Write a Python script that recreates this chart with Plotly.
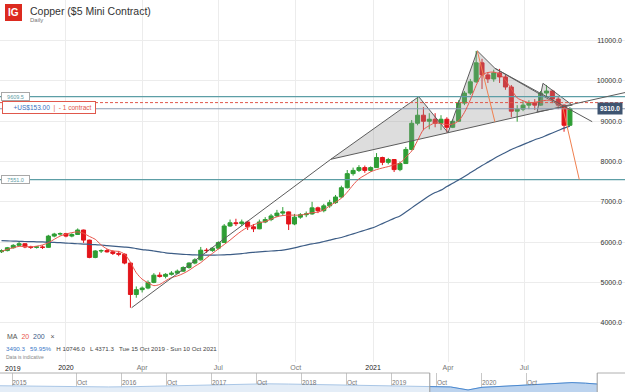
import pandas as pd
import plotly.graph_objects as go

W, H = 625, 392
def px(x): return x / W
def py(y): return 1 - y / H

# ---------------- data ----------------
week_mondays = pd.date_range("2019-10-14", "2021-08-23", freq="W-MON")
candle_dates = [d + pd.Timedelta(days=2) for d in week_mondays]

opens = [5760, 5790, 5860, 5920, 5960, 5880, 5870, 5880, 5870, 6150,
         6200, 6210, 6150, 6190, 6300, 6050, 5620, 5780, 5790, 5760,
         5720, 5700, 5480, 4700, 4820, 4860, 5000, 5180, 5150, 5200,
         5230, 5280, 5370, 5480, 5560, 5800, 5790, 5850, 5990, 6400,
         6480, 6460, 6500, 6380, 6330, 6500, 6560, 6650, 6720, 6750,
         6450, 6620, 6680, 6700, 6850, 6780, 6900, 6980, 7120, 7350,
         7700, 7780, 7850, 7780, 7850, 8100, 7980, 8050, 7800, 7950,
         8300, 8950, 9150, 9000, 9050, 8950, 9050, 8850, 9000, 9450,
         9700, 9980, 10450, 10150, 10050, 10200, 10100, 9850, 9250, 9300,
         9400, 9450, 9400, 9700, 9750, 9550, 9400, 8900]
highs = [5820, 5880, 5950, 6020, 5970, 5910, 5900, 5920, 6180, 6230,
         6240, 6230, 6220, 6340, 6310, 6060, 5800, 5820, 5830, 5800,
         5780, 5720, 5500, 4900, 4900, 5050, 5230, 5250, 5230, 5280,
         5320, 5400, 5500, 5600, 5880, 5850, 5880, 6020, 6450, 6560,
         6580, 6560, 6530, 6450, 6560, 6620, 6700, 6800, 6870, 6760,
         6700, 6720, 6760, 7000, 6880, 6950, 7050, 7170, 7400, 7790,
         7850, 7910, 7900, 7880, 8210, 8120, 8090, 8060, 8000, 8360,
         9030, 9610, 9350, 9200, 9200, 9150, 9100, 9050, 9520, 9750,
         10050, 10746, 10550, 10220, 10280, 10300, 10150, 9900, 9400, 9500,
         9520, 9550, 9750, 9900, 9780, 9600, 9420, 9350]
lows = [5730, 5770, 5840, 5900, 5850, 5830, 5840, 5830, 5860, 6120,
        6160, 6120, 6120, 6180, 5980, 5600, 5600, 5730, 5740, 5680,
        5650, 5450, 4371.3, 4620, 4750, 4830, 4980, 5120, 5100, 5170,
        5200, 5260, 5340, 5450, 5540, 5730, 5760, 5820, 5980, 6380,
        6400, 6400, 6300, 6250, 6320, 6470, 6520, 6620, 6650, 6300,
        6420, 6580, 6620, 6680, 6720, 6740, 6850, 6950, 7100, 7330,
        7650, 7740, 7720, 7750, 7840, 7910, 7930, 7740, 7760, 7940,
        8280, 8900, 8780, 8800, 8850, 8780, 8720, 8830, 8980, 9400,
        9650, 9950, 9800, 9950, 9980, 9950, 9780, 9100, 8990, 9250,
        9300, 9280, 9380, 9600, 9450, 9300, 8740, 8880]
closes = [5790, 5860, 5920, 5960, 5880, 5870, 5880, 5870, 6150, 6200,
          6210, 6150, 6190, 6300, 6050, 5620, 5780, 5790, 5760, 5720,
          5700, 5480, 4700, 4820, 4860, 5000, 5180, 5150, 5200, 5230,
          5280, 5370, 5480, 5560, 5800, 5790, 5850, 5990, 6400, 6480,
          6460, 6500, 6380, 6330, 6500, 6560, 6650, 6720, 6750, 6450,
          6620, 6680, 6700, 6850, 6780, 6900, 6980, 7120, 7350, 7700,
          7780, 7850, 7780, 7850, 8100, 7980, 8050, 7800, 7950, 8300,
          8950, 9150, 9000, 9050, 8950, 9050, 8850, 9000, 9450, 9700,
          9980, 10450, 10150, 10050, 10200, 10100, 9850, 9250, 9300, 9400,
          9450, 9400, 9700, 9750, 9550, 9400, 8900, 9310]
ma20 = [5770, 5820, 5860, 5895, 5890, 5882, 5900, 5930, 5985, 6070,
        6150, 6200, 6235, 6255, 6220, 6140, 6070, 5930, 5830, 5780,
        5770, 5700, 5500, 5240, 5080, 4990, 4920, 4950, 5040, 5120,
        5160, 5220, 5300, 5400, 5490, 5610, 5720, 5830, 5940, 6050,
        6170, 6280, 6370, 6430, 6480, 6510, 6570, 6630, 6660, 6670,
        6670, 6670, 6700, 6730, 6745, 6800, 6900, 6990, 7090, 7240,
        7420, 7570, 7660, 7745, 7800, 7840, 7875, 7920, 7960, 8110,
        8260, 8520, 8790, 8890, 8960, 8940, 8915, 8930, 9010, 9220,
        9530, 9890, 10150, 10210, 10220, 10170, 10020, 9800, 9580, 9510,
        9460, 9470, 9500, 9520, 9520, 9430, 9350, 9280]
ma200 = [6035, 6030, 6025, 6020, 6015, 6012, 6008, 6004, 6000, 5992,
         5985, 5977, 5968, 5960, 5952, 5944, 5936, 5928, 5915, 5903,
         5890, 5878, 5865, 5840, 5815, 5800, 5780, 5760, 5735, 5720,
         5708, 5697, 5688, 5682, 5680, 5679, 5679, 5680, 5685, 5692,
         5702, 5715, 5735, 5747, 5758, 5768, 5779, 5790, 5800, 5828,
         5858, 5893, 5925, 5955, 5980, 6015, 6050, 6085, 6115, 6160,
         6205, 6250, 6295, 6340, 6395, 6460, 6525, 6590, 6650, 6750,
         6850, 6950, 7050, 7150, 7230, 7290, 7380, 7460, 7545, 7630,
         7720, 7810, 7900, 7985, 8070, 8150, 8225, 8300, 8360, 8420,
         8480, 8540, 8590, 8650, 8710, 8770, 8830, 8880]

x_start, x_end = "2019-10-14 17:00", "2021-10-11"
last_session = "2021-08-22"

# chart drawings (date, price anchors)
xa_dates, xa_prices = ["2020-03-19", "2020-11-12"], [4371.3, 8056]
ls_dates, ls_prices = ["2020-11-12", "2021-02-25", "2021-04-01"], [8056, 9609.5, 8716]
head_dates = ["2021-04-01", "2021-05-06", "2021-05-27", "2021-08-16"]
head_prices = [8716, 10746, 10314, 9361]
rs_dates, rs_prices = ["2021-07-16", "2021-07-23", "2021-08-27"], [9230, 9942, 9400]
neck_dates, neck_prices = ["2021-08-16", "2021-10-11"], [9361, 9712]
down_dates, down_prices = ["2021-05-27", "2021-09-13"], [10314, 8989]
proj1_dates, proj1_prices = ["2021-05-06", "2021-05-27"], [10746, 8985]
proj2_dates, proj2_prices = ["2021-08-17", "2021-09-02"], [9329, 7551]
level_prices = [9609.5, 7551.0]
entry_price, last_price = 9463.0, 9310.0
pnl_text, size_text = "+US$153.00", "- 1 contract"

y_ticks = [4000, 5000, 6000, 7000, 8000, 9000, 10000, 11000]
x_tick_dates = ["2020-01-01", "2020-04-01", "2020-07-01", "2020-10-01",
                "2021-01-01", "2021-04-01", "2021-07-01", "2021-10-01"]
x_tick_labels = ["2020", "Apr", "Jul", "Oct", "2021", "Apr", "Jul", "Oct"]

# navigator (long history, in navigator slot units)
nav_slot = [-0.72, -0.3, 0.2, 0.7, 1.2, 1.7, 2.2, 2.7, 3.2, 3.7, 4.2, 4.7, 5.2, 5.7,
            6.2, 6.7, 7.2, 7.7, 8.2, 8.7, 8.84, 9.3, 9.69, 10.0, 10.4, 10.8, 11.2,
            11.6, 12.0, 12.3, 12.56]
nav_vals = [7900, 7700, 7300, 7000, 6800, 6900, 7100, 7500, 8200, 8600, 8900, 9200,
            9500, 9300, 9000, 8700, 8400, 8200, 7800, 7500, 7200, 6900, 4400, 6600,
            7300, 8200, 8900, 9600, 10500, 10000, 9300]
nav_window = [8.84, 12.56]
nav_tick_slots = [-0.44, 1, 2, 3, 4, 5, 6, 7, 8, 9, 10, 11]
nav_tick_labels = ["2015", "Oct", "2016", "Oct", "2017", "Oct", "2018", "Oct",
                   "2019", "Oct", "2020", "Oct"]

# ---------------- styles ----------------
FONT = "Liberation Sans, Arial, sans-serif"
GREEN, RED = "#2f9e35", "#e3151b"
MA20_C, MA200_C = "#e9564c", "#3d5d86"
TEAL = "#5d9ea6"
DRAW = "#5c5c5c"
ORANGE = "#f0804f"
NB = "\u00a0"

fig = go.Figure()

# drawings: shaded triangles
for dd, pp in [(ls_dates, ls_prices), (head_dates, head_prices), (rs_dates, rs_prices)]:
    fig.add_trace(go.Scatter(x=dd + [dd[0]], y=pp + [pp[0]], mode="lines", fill="toself",
                             fillcolor="rgba(150,150,150,0.32)",
                             line=dict(color=DRAW, width=1), hoverinfo="skip"))

# horizontal levels
for lv in level_prices:
    fig.add_trace(go.Scatter(x=[x_start, x_end], y=[lv, lv], mode="lines",
                             line=dict(color=TEAL, width=1.2), hoverinfo="skip"))
fig.add_trace(go.Scatter(x=[x_start, x_end], y=[entry_price, entry_price], mode="lines",
                         line=dict(color="#e0584c", width=1, dash="3px,2px"), hoverinfo="skip"))
fig.add_trace(go.Scatter(x=[x_start, x_end], y=[last_price, last_price], mode="lines",
                         line=dict(color="#8a9db3", width=1), hoverinfo="skip"))

# candles
fig.add_trace(go.Candlestick(
    x=candle_dates, open=opens, high=highs, low=lows, close=closes,
    increasing=dict(line=dict(color=GREEN, width=1), fillcolor=GREEN),
    decreasing=dict(line=dict(color=RED, width=1), fillcolor=RED),
    whiskerwidth=0, hoverinfo="skip"))

# moving averages
fig.add_trace(go.Scatter(x=candle_dates, y=ma200, mode="lines",
                         line=dict(color=MA200_C, width=1.2, shape="spline", smoothing=0.8),
                         hoverinfo="skip"))
fig.add_trace(go.Scatter(x=candle_dates, y=ma20, mode="lines",
                         line=dict(color=MA20_C, width=1, shape="spline", smoothing=0.8),
                         hoverinfo="skip"))

# trend lines
for dd, pp, col in [(xa_dates, xa_prices, DRAW), (neck_dates, neck_prices, DRAW),
                    (down_dates, down_prices, DRAW), (proj1_dates, proj1_prices, ORANGE),
                    (proj2_dates, proj2_prices, ORANGE)]:
    fig.add_trace(go.Scatter(x=dd, y=pp, mode="lines", line=dict(color=col, width=1),
                             hoverinfo="skip"))

# navigator
nav_sel = [(s, v) for s, v in zip(nav_slot, nav_vals) if s >= nav_window[0]]
fig.add_trace(go.Scatter(x=nav_slot, y=nav_vals, mode="lines", fill="tozeroy",
                         fillcolor="#e4edf7", line=dict(color="#a9c6e6", width=1),
                         xaxis="x2", yaxis="y2", hoverinfo="skip"))
fig.add_trace(go.Scatter(x=[s for s, _ in nav_sel], y=[v for _, v in nav_sel], mode="lines",
                         fill="tozeroy", fillcolor="#bcd3ee",
                         line=dict(color="#4b89d0", width=1),
                         xaxis="x2", yaxis="y2", hoverinfo="skip"))

weekend_days = [d.strftime("%Y-%m-%d") for d in pd.date_range("2019-10-12", last_session)
                if d.weekday() >= 5]

tick_text = [('<span style="color:#222">%s</span>' % t) if t.isdigit() else t
             for t in x_tick_labels]

fig.update_layout(
    width=W, height=H, margin=dict(l=0, r=0, t=0, b=0),
    paper_bgcolor="white", plot_bgcolor="white", showlegend=False,
    font=dict(family=FONT, size=7, color="#555"),
    xaxis=dict(domain=[0, 1], anchor="y", range=[x_start, x_end],
               rangebreaks=[dict(values=weekend_days)],
               rangeslider=dict(visible=False),
               tickmode="array", tickvals=x_tick_dates, ticktext=tick_text,
               ticks="", showgrid=True, gridcolor="#ececec", gridwidth=1,
               zeroline=False, showline=False, tickfont=dict(size=7, color="#777")),
    yaxis=dict(domain=[py(362), 1], anchor="x", side="right", range=[3024.6, 12009.4],
               tickmode="array", tickvals=y_ticks, tickformat=".1f",
               ticklabelposition="inside", ticks="",
               showgrid=True, gridcolor="#ececec", zeroline=False, showline=False,
               tickfont=dict(size=7, color="#333")),
    xaxis2=dict(domain=[0, 1], anchor="y2", range=[-0.711, 13.178], type="linear",
                tickmode="array", tickvals=nav_tick_slots, ticktext=nav_tick_labels,
                ticklabelposition="inside right", ticks="",
                showgrid=True, gridcolor="#c8c8c8", zeroline=False, showline=False,
                tickfont=dict(size=6.5, color="#777")),
    yaxis2=dict(domain=[0, py(373)], anchor="x2", range=[2715, 18450], visible=False),
)

# navigator frame
shapes = [
    dict(type="line", xref="x2", yref="paper", x0=-0.711, x1=nav_window[0], y0=py(373), y1=py(373),
         line=dict(color="#b0b0b0", width=1)),
    dict(type="line", xref="x2", yref="paper", x0=nav_window[1], x1=13.178, y0=py(373), y1=py(373),
         line=dict(color="#b0b0b0", width=1)),
    dict(type="line", xref="x2", yref="paper", x0=nav_window[0], x1=nav_window[0], y0=0, y1=py(373),
         line=dict(color="#9a9a9a", width=1)),
    dict(type="line", xref="x2", yref="paper", x0=nav_window[1], x1=nav_window[1], y0=0, y1=py(373),
         line=dict(color="#9a9a9a", width=1)),
    # IG logo square
    dict(type="rect", xref="paper", yref="paper", x0=px(5), x1=px(22), y0=py(21), y1=py(4),
         fillcolor="#dc2a1f", line=dict(width=0)),
]
fig.update_layout(shapes=shapes)

ann = []
def A(x, y, text, size=7, color="#555", xanchor="left", **kw):
    ann.append(dict(xref="paper", yref="paper", x=px(x), y=py(y), text=text, showarrow=False,
                    xanchor=xanchor, yanchor="middle", font=dict(family=FONT, size=size, color=color), **kw))

A(13.5, 12.5, "<b>IG</b>", size=10, color="white", xanchor="center")
A(28, 10.5, "Copper ($5 Mini Contract)", size=10.5, color="#333")
A(28, 19.5, "Daily", size=6, color="#777")

A(3, 368, '<span style="color:#222">2019</span>', size=7)

# level labels
for lv in level_prices:
    ann.append(dict(xref="paper", yref="y", x=px(1), y=lv, text=NB * 3 + "%.1f" % lv + NB * 3,
                    showarrow=False, xanchor="left", yanchor="middle", bgcolor="white",
                    bordercolor="#a8a8a8", borderwidth=1, borderpad=0.5,
                    font=dict(family=FONT, size=5.5, color=TEAL)))
pos_y = 4000 + (322.7 - 107.5) * 24.82
ann.append(dict(xref="paper", yref="y", x=px(2), y=pos_y,
                text=NB * 5 + '<span style="color:#3a6fbf">' + pnl_text + '</span>' + NB * 2 +
                     '<span style="color:#e0584c">|' + NB * 2 + size_text + '</span>' + NB,
                showarrow=False, xanchor="left", yanchor="middle", bgcolor="white",
                bordercolor="#e0584c", borderwidth=1, borderpad=1.5,
                font=dict(family=FONT, size=6.5)))
ann.append(dict(xref="paper", yref="y", x=px(623), y=last_price, text="<b>%.1f</b>" % last_price,
                showarrow=False, xanchor="right", yanchor="middle", bgcolor="#3e5470",
                borderpad=2, font=dict(family=FONT, size=6.5, color="white")))

A(5, 336, 'MA' + NB * 2 + '<span style="color:#e9564c">20</span>' + NB * 2 +
  '<span style="color:#3d5d86">200</span>' + NB * 3 + '×', size=7, color="#555")
A(4, 348, '<span style="color:#3a78c8">3490.3</span>' + NB * 3 +
  '<span style="color:#3a78c8">59.95%</span>' + NB * 3 +
  'H 10746.0' + NB * 3 + 'L 4371.3' + NB * 3 + 'Tue 15 Oct 2019 - Sun 10 Oct 2021',
  size=6.2, color="#444")
A(4, 357, "Data is indicative", size=5, color="#888")

fig.update_layout(annotations=ann)
fig.write_html("out.html")
